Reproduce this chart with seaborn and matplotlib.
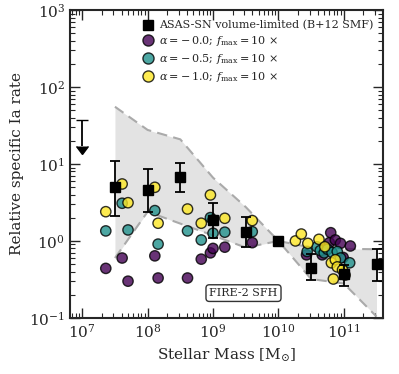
import numpy as np
import pandas as pd
import matplotlib
matplotlib.use("Agg")
import matplotlib.pyplot as plt
from matplotlib.lines import Line2D
import seaborn as sns

# --- data (log10 stellar mass, relative specific Ia rate) ---
asas_logm = [7.5, 8.0, 8.5, 9.0, 9.5, 10.0, 10.5, 11.0, 11.5]
asas_rate = [5.07, 4.6, 6.7, 1.87, 1.32, 1.0, 0.44, 0.37, 0.50]
asas_hi = [11.0, 8.5, 10.4, 3.14, 2.07, 1.0, 0.68, 0.49, 0.79]
asas_lo = [2.13, 2.4, 4.37, 1.1, 0.84, 1.0, 0.31, 0.26, 0.30]

# upper limit in the lowest mass bin
ulim_logm = [7.0]
ulim_top = [37.0]
ulim_end = [17.0]

# FIRE-2 SFH envelope
band_logm = [7.5, 8.0, 8.5, 9.0, 9.5, 10.0, 10.5, 11.0, 11.5]
band_upper = [55.5, 27.7, 20.9, 6.64, 2.76, 1.0, 0.82, 0.79, 0.78]
band_lower = [0.60, 2.4, 1.68, 1.18, 0.82, 1.0, 0.32, 0.28, 0.104]

# FIRE galaxies for three alpha values
a00_logm = [7.36, 7.61, 7.70, 8.11, 8.16, 8.61, 8.82, 8.96, 9.0, 9.18, 9.6,
            10.43, 10.67, 10.72, 10.78, 10.80, 10.87, 10.95, 10.99, 11.10]
a00_rate = [0.44, 0.60, 0.30, 0.64, 0.33, 0.33, 0.58, 0.70, 0.80, 0.83, 0.95,
            0.66, 0.66, 0.80, 0.95, 1.28, 1.03, 0.93, 0.61, 0.86]
a05_logm = [7.36, 7.61, 7.70, 8.11, 8.16, 8.61, 8.82, 8.96, 9.0, 9.18, 9.6,
            10.44, 10.59, 10.64, 10.70, 10.75, 10.82, 10.90, 10.95, 11.09]
a05_rate = [1.35, 3.09, 1.39, 2.48, 0.91, 1.35, 1.03, 2.01, 1.26, 1.30, 1.32,
            0.73, 0.84, 0.75, 0.70, 0.78, 0.71, 0.73, 0.60, 0.52]
a10_logm = [7.36, 7.61, 7.70, 8.11, 8.16, 8.61, 8.82, 8.96, 9.0, 9.18, 9.6,
            10.26, 10.35, 10.45, 10.62, 10.71, 10.81, 10.84, 10.87, 10.90, 10.98, 11.02]
a10_rate = [2.40, 5.50, 3.14, 4.98, 1.70, 2.60, 1.70, 3.96, 1.87, 1.97, 1.84,
            1.00, 1.23, 0.93, 1.05, 0.84, 0.52, 0.32, 0.57, 0.46, 0.42, 0.36]

labels = [r"$\alpha = -\,0.0$; $f_{\rm max} = 10\,\times$",
          r"$\alpha = -\,0.5$; $f_{\rm max} = 10\,\times$",
          r"$\alpha = -\,1.0$; $f_{\rm max} = 10\,\times$"]
asas_label = "ASAS-SN volume-limited (B+12 SMF)"
colors = [plt.cm.viridis(0.0), plt.cm.viridis(0.5), plt.cm.viridis(1.0)]

df = pd.concat([
    pd.DataFrame({"mass": 10 ** np.array(m), "rate": r, "model": lab})
    for m, r, lab in zip([a00_logm, a05_logm, a10_logm],
                         [a00_rate, a05_rate, a10_rate], labels)
], ignore_index=True)

sns.set_style("ticks")
plt.rcParams["font.family"] = ["DejaVu Serif"]
plt.rcParams["mathtext.fontset"] = "dejavuserif"

fig = plt.figure(figsize=(3.99, 3.74), dpi=100)
ax = fig.add_axes([0.175, 0.15, 0.785, 0.823])

# envelope
bm = 10 ** np.array(band_logm)
ax.fill_between(bm, band_lower, band_upper, color="#e3e3e3", lw=0, zorder=0)
ax.plot(bm, band_upper, ls=(0, (5, 3)), color="#aaaaaa", lw=1.5, zorder=1)
ax.plot(bm, band_lower, ls=(0, (5, 3)), color="#aaaaaa", lw=1.5, zorder=1)

sns.scatterplot(data=df, x="mass", y="rate", hue="model",
                palette=dict(zip(labels, colors)), s=55, alpha=0.8,
                edgecolor="black", linewidth=1.0, ax=ax, zorder=3, legend=False)

# ASAS-SN squares
am = 10 ** np.array(asas_logm)
yerr = [np.array(asas_rate) - np.array(asas_lo), np.array(asas_hi) - np.array(asas_rate)]
ax.errorbar(am, asas_rate, yerr=yerr, fmt="s", color="black", ms=7,
            capsize=3.5, elinewidth=1.3, capthick=1.3, zorder=5)

# upper limit arrow
ax.errorbar(10 ** np.array(ulim_logm), ulim_top,
            yerr=[np.array(ulim_top) - np.array(ulim_end), [0]],
            uplims=True, fmt="none", ecolor="black", color="black",
            elinewidth=1.3, capsize=4)

ax.text(10 ** 9.466, 0.21, "FIRE-2 SFH", ha="center", va="center", fontsize=8,
        bbox=dict(boxstyle="round,pad=0.3", fc="white", ec="#333333", lw=1))

ax.set_xscale("log")
ax.set_yscale("log")
ax.set_xlim(10 ** 6.81, 10 ** 11.6)
ax.set_ylim(0.1, 1000)
ax.set_xlabel(r"Stellar Mass [M$_{\odot}$]", fontsize=11)
ax.set_ylabel("Relative specific Ia rate", fontsize=11)
ax.tick_params(which="both", direction="in", top=True, right=True, labelsize=11)
ax.tick_params(which="major", length=7, width=1.0)
ax.tick_params(which="minor", length=3.5, width=0.8)
for sp in ax.spines.values():
    sp.set_linewidth(1.5)

handles = [Line2D([], [], ls="none", marker="s", color="black", ms=7)]
for c in colors:
    handles.append(Line2D([], [], ls="none", marker="o", mfc=c, mec="black",
                          alpha=0.8, ms=8, mew=1.0))
ax.legend(handles, [asas_label] + labels, loc="upper right",
          frameon=False, fontsize=8, handletextpad=0.4, borderaxespad=0.5,
          labelspacing=0.35, handlelength=1.2)

fig.savefig("out.png", dpi=100)
